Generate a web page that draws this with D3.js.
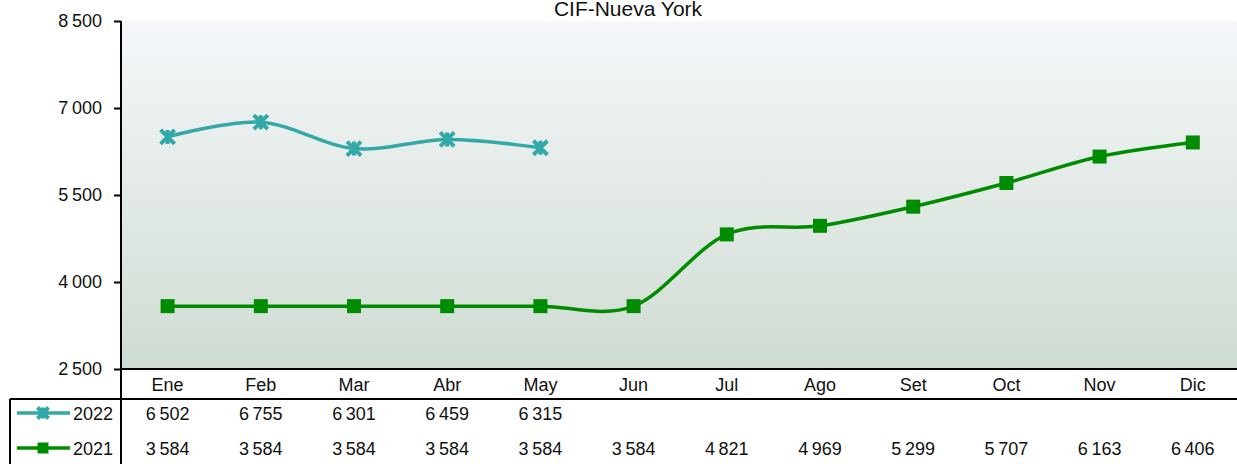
<!DOCTYPE html>
<html>
<head>
<meta charset="utf-8">
<script src="https://cdn.jsdelivr.net/npm/d3@7"></script>
<style>
body { margin: 0; background: #fff; }
svg text { font-family: "Liberation Sans", Arial, sans-serif; fill: #111; }
</style>
</head>
<body>
<div id="chart"></div>
<script>
const months = ["Ene","Feb","Mar","Abr","May","Jun","Jul","Ago","Set","Oct","Nov","Dic"];
const v2022 = [6502, 6755, 6301, 6459, 6315];
const v2021 = [3584, 3584, 3584, 3584, 3584, 3584, 4821, 4969, 5299, 5707, 6163, 6406];
const yTicks = [2500, 4000, 5500, 7000, 8500];
const seriesNames = ["2022", "2021"];

const width = 1237, height = 464,
  plot = {left: 121, top: 21, bottom: 369, right: 121 + 12 * 93.2};

const teal = "#33a8a8", green = "#008c00";

const fmt = d3.formatLocale({decimal: ",", thousands: "\u2009", grouping: [3], currency: ["", ""]}).format(",d");

const svg = d3.select("#chart")
  .append("svg")
  .attr("width", width)
  .attr("height", height);

const defs = svg.append("defs");
const grad = defs.append("linearGradient")
  .attr("id", "bg").attr("x1", 0).attr("y1", 0).attr("x2", 0).attr("y2", 1);
grad.append("stop").attr("offset", "0%").attr("stop-color", "#f5f7fa");
grad.append("stop").attr("offset", "100%").attr("stop-color", "#cfdcd2");

let x = d3.scaleBand(months, [plot.left, plot.right]);
let y = d3.scaleLinear([2500, 8500], [plot.bottom, plot.top]);
const cx = d => x(d) + x.bandwidth() / 2;

// plot background
svg.append("rect")
  .attr("x", plot.left).attr("y", plot.top)
  .attr("width", width - plot.left).attr("height", plot.bottom - plot.top)
  .attr("fill", "url(#bg)");

// title
svg.append("text")
  .attr("x", 628).attr("y", 16)
  .attr("text-anchor", "middle")
  .attr("font-size", 21)
  .text("CIF-Nueva York");

// y axis
const yAxis = svg.append("g")
  .attr("transform", `translate(${plot.left},0)`)
  .call(d3.axisLeft(y).tickValues(yTicks).tickSize(7).tickPadding(12).tickFormat(fmt));
yAxis.select(".domain").remove();
yAxis.selectAll("line").attr("stroke", "#000").attr("stroke-width", 2);
yAxis.selectAll("text").attr("font-size", 18).attr("fill", "#111")
  .attr("font-family", "Liberation Sans, Arial, sans-serif");

// table grid lines
const grid = svg.append("g").attr("stroke", "#000").attr("stroke-width", 2);
grid.append("line").attr("x1", plot.left).attr("x2", plot.left).attr("y1", plot.top).attr("y2", height);
grid.append("line").attr("x1", plot.left).attr("x2", width).attr("y1", plot.bottom).attr("y2", plot.bottom);
grid.append("line").attr("x1", 10).attr("x2", width).attr("y1", 399).attr("y2", 399);
grid.append("line").attr("x1", 10).attr("x2", 10).attr("y1", 399).attr("y2", height);

// month labels
svg.append("g")
  .selectAll("text")
  .data(months)
  .join("text")
  .attr("x", d => cx(d))
  .attr("y", 391)
  .attr("text-anchor", "middle")
  .attr("font-size", 18)
  .text(d => d);

const line = d3.line()
  .x((d, i) => cx(months[i]))
  .y(d => y(d))
  .curve(d3.curveCardinal.tension(0));

function star(g, size) {
  const s = size / 2;
  g.append("path")
    .attr("d", `M${-s},${-s}L${s},${s}M${-s},${s}L${s},${-s}M0,${-s}L0,${s}`)
    .attr("stroke", teal).attr("stroke-width", 4).attr("fill", "none");
}
function square(g, size) {
  g.append("rect")
    .attr("x", -size / 2).attr("y", -size / 2)
    .attr("width", size).attr("height", size)
    .attr("fill", green);
}

const series = [
  {name: seriesNames[0], values: v2022, color: teal, marker: star, row: 420, legY: 413},
  {name: seriesNames[1], values: v2021, color: green, marker: square, row: 455, legY: 448}
];

series.slice().reverse().forEach(s => {
  svg.append("path")
    .datum(s.values)
    .attr("fill", "none")
    .attr("stroke", s.color)
    .attr("stroke-width", 3.5)
    .attr("d", line);

  svg.append("g")
    .selectAll("g")
    .data(s.values)
    .join("g")
    .attr("transform", (d, i) => `translate(${cx(months[i])},${y(d)})`)
    .each(function() { s.marker(d3.select(this), 14); });
});

// table rows
series.forEach(s => {
  svg.append("line")
    .attr("x1", 17).attr("x2", 70)
    .attr("y1", s.legY).attr("y2", s.legY)
    .attr("stroke", s.color).attr("stroke-width", 3.5);
  s.marker(svg.append("g").attr("transform", `translate(43,${s.legY})`), 11);

  svg.append("text")
    .attr("x", 113).attr("y", s.row)
    .attr("text-anchor", "end")
    .attr("font-size", 18)
    .text(s.name);

  svg.append("g")
    .selectAll("text")
    .data(s.values)
    .join("text")
    .attr("x", (d, i) => cx(months[i]))
    .attr("y", s.row)
    .attr("text-anchor", "middle")
    .attr("font-size", 18)
    .text(d => fmt(d));
});
</script>
</body>
</html>
